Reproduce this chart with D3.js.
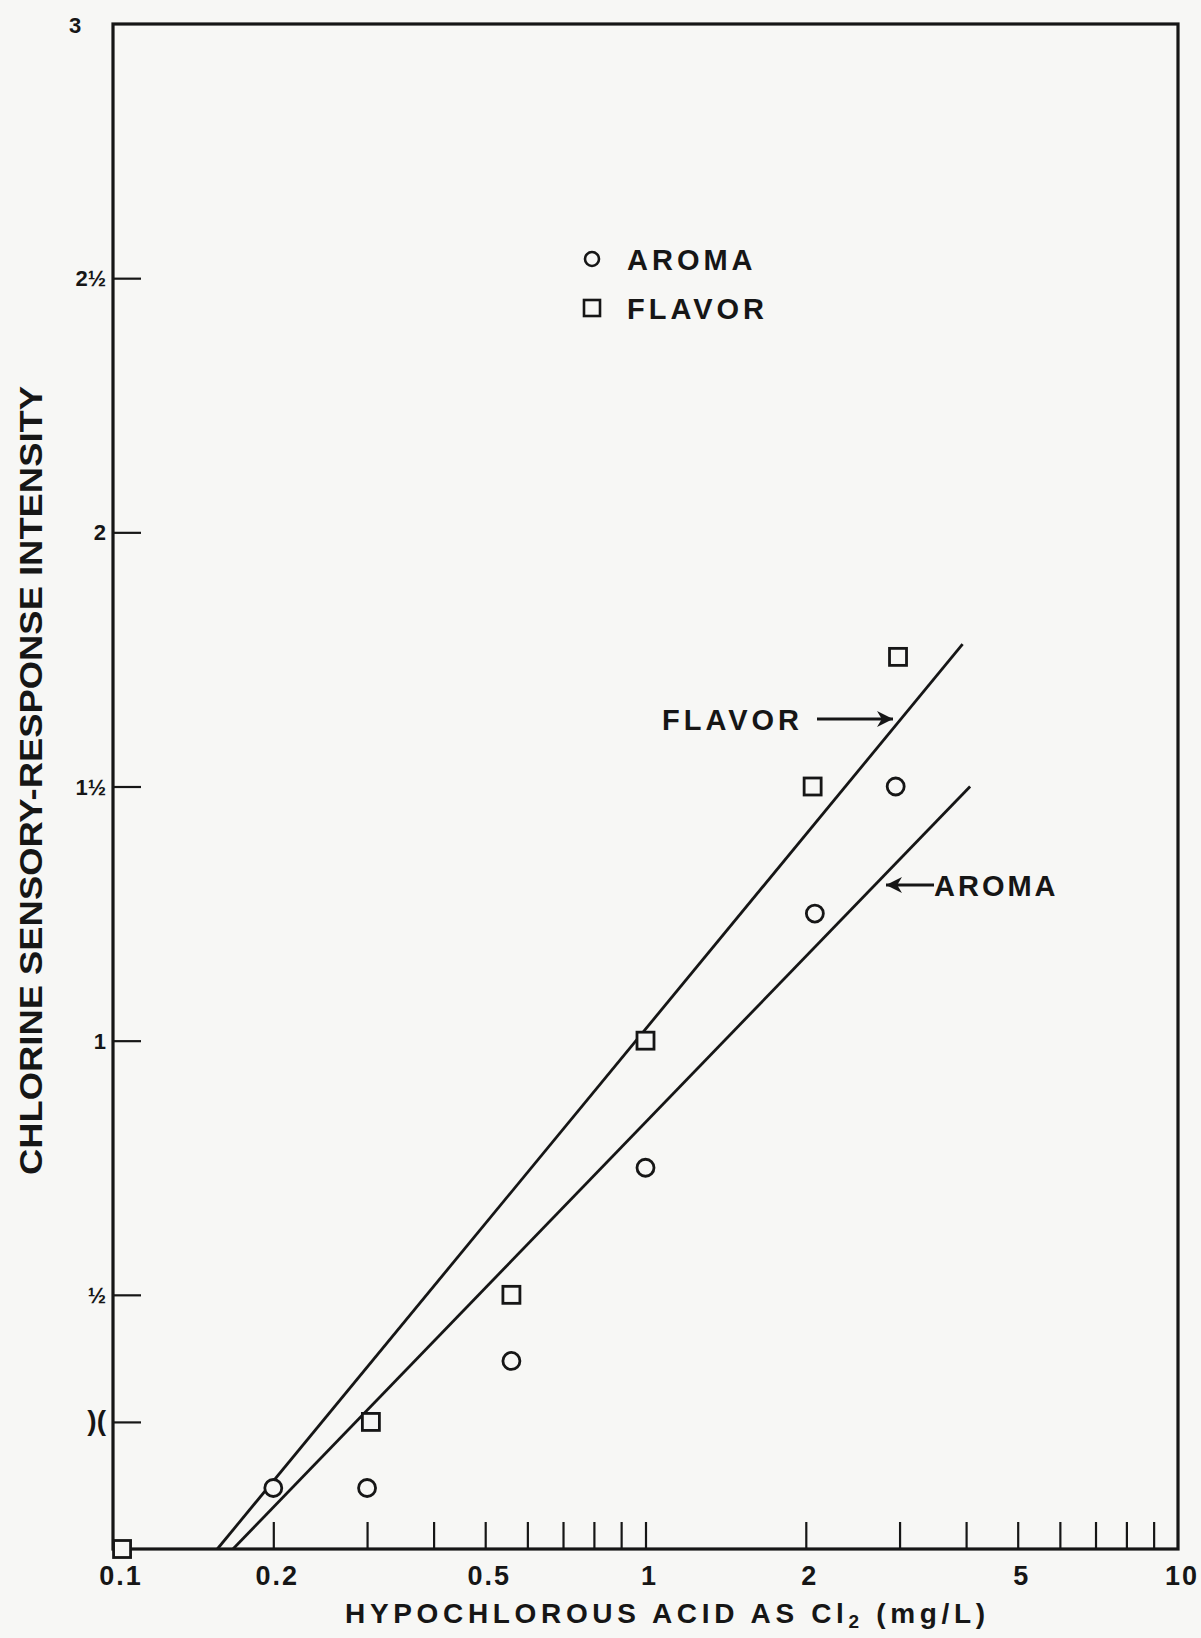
<!DOCTYPE html>
<html>
<head>
<meta charset="utf-8">
<script src="https://cdn.jsdelivr.net/npm/d3@7"></script>
<style>
  html, body { margin: 0; padding: 0; background: #f7f7f5; }
  svg { display: block; }
  text { font-family: "Liberation Sans", Arial, Helvetica, sans-serif; font-weight: bold; fill: #161616; }
</style>
</head>
<body>
<div id="chart"></div>
<script>
// data
const aromaX  = [0.2, 0.3, 0.56, 1.0, 2.08, 2.95];
const aromaY  = [0.12, 0.12, 0.37, 0.75, 1.25, 1.5];
const flavorX = [0.104, 0.305, 0.56, 1.0, 2.06, 2.98];
const flavorY = [0, 0.25, 0.5, 1.0, 1.5, 1.755];

// fitted lines (end points)
const flavorFitX = [0.157, 3.94];
const flavorFitY = [0, 1.78];
const aromaFitX  = [0.168, 4.07];
const aromaFitY  = [0, 1.5];

// ticks
const xMinorTicks = [0.2, 0.3, 0.4, 0.5, 0.6, 0.7, 0.8, 0.9, 1, 2, 3, 4, 5, 6, 7, 8, 9];
const xTickLabels = [0.1, 0.2, 0.5, 1, 2, 5, 10];
const yTickValues = [0.25, 0.5, 1, 1.5, 2, 2.5];
const yTickLabels = [")(", "½", "1", "1½", "2", "2½"];

const W = 1201, H = 1638;
const margin = { top: 24, right: 23, bottom: 89, left: 113 };
const width = W - margin.left - margin.right;
const height = H - margin.top - margin.bottom;

const svg = d3.select('#chart').append('svg')
  .attr('width', W)
  .attr('height', H);

const g = svg.append('g')
  .attr('transform', `translate(${margin.left},${margin.top})`);

const x = d3.scaleLog().domain([0.1, 10]).range([0, width]);
const y = d3.scaleLinear().domain([0, 3]).range([height, 0]);

const ink = '#161616';

// frame
g.append('rect')
  .attr('x', 0).attr('y', 0)
  .attr('width', width).attr('height', height)
  .attr('fill', 'none')
  .attr('stroke', ink)
  .attr('stroke-width', 3.2);

// x axis: ticks pointing up into the plot
const xAxis = g.append('g')
  .attr('transform', `translate(0,${height})`)
  .call(d3.axisTop(x).tickValues(xMinorTicks).tickSize(27).tickFormat(() => ''));
xAxis.select('.domain').remove();
xAxis.selectAll('line').attr('stroke', ink).attr('stroke-width', 2.2);

g.append('g')
  .selectAll('text')
  .data(xTickLabels)
  .join('text')
  .attr('x', d => x(d) + (d === 0.1 ? 8 : 4))
  .attr('y', height + 36)
  .attr('text-anchor', 'middle')
  .attr('font-size', 27)
  .attr('letter-spacing', 2)
  .text(d => String(d));

// y axis: ticks pointing right into the plot
const yAxis = g.append('g')
  .call(d3.axisRight(y).tickValues(yTickValues).tickSize(28).tickFormat(() => ''));
yAxis.select('.domain').remove();
yAxis.selectAll('line').attr('stroke', ink).attr('stroke-width', 2.2);

g.append('g')
  .selectAll('text')
  .data(yTickValues)
  .join('text')
  .attr('x', -7)
  .attr('y', d => y(d) + 8)
  .attr('text-anchor', 'end')
  .attr('font-size', d => d === 0.25 ? 28 : 22)
  .text((d, i) => yTickLabels[i]);

g.append('text')
  .attr('x', -44)
  .attr('y', y(3) + 9)
  .attr('font-size', 22)
  .text('3');

// fitted lines
const line = d3.line().x(d => x(d[0])).y(d => y(d[1]));
g.append('path')
  .datum(d3.zip(flavorFitX, flavorFitY))
  .attr('d', line)
  .attr('fill', 'none').attr('stroke', ink).attr('stroke-width', 2.8);
g.append('path')
  .datum(d3.zip(aromaFitX, aromaFitY))
  .attr('d', line)
  .attr('fill', 'none').attr('stroke', ink).attr('stroke-width', 2.8);

// markers
g.append('g')
  .selectAll('circle')
  .data(d3.zip(aromaX, aromaY))
  .join('circle')
  .attr('cx', d => x(d[0]))
  .attr('cy', d => y(d[1]))
  .attr('r', 8.5)
  .attr('fill', '#f7f7f5')
  .attr('stroke', ink)
  .attr('stroke-width', 2.8);

const sq = 17;
g.append('g')
  .selectAll('rect')
  .data(d3.zip(flavorX, flavorY))
  .join('rect')
  .attr('x', d => x(d[0]) - sq / 2)
  .attr('y', d => y(d[1]) - sq / 2)
  .attr('width', sq).attr('height', sq)
  .attr('fill', '#f7f7f5')
  .attr('stroke', ink)
  .attr('stroke-width', 2.8);

// legend
const legend = g.append('g').attr('transform', `translate(${479},${235})`);
legend.append('circle')
  .attr('cx', 0).attr('cy', 0).attr('r', 7)
  .attr('fill', 'none').attr('stroke', ink).attr('stroke-width', 2.6);
legend.append('text')
  .attr('x', 35).attr('y', 11)
  .attr('font-size', 29).attr('letter-spacing', 4)
  .text('AROMA');
legend.append('rect')
  .attr('x', -8).attr('y', 41).attr('width', 16).attr('height', 16)
  .attr('fill', 'none').attr('stroke', ink).attr('stroke-width', 2.6);
legend.append('text')
  .attr('x', 35).attr('y', 60)
  .attr('font-size', 29).attr('letter-spacing', 4)
  .text('FLAVOR');

// arrow head
const defs = svg.append('defs');
defs.append('marker')
  .attr('id', 'arrow')
  .attr('viewBox', '0 0 10 10')
  .attr('refX', 10).attr('refY', 5)
  .attr('markerWidth', 24).attr('markerHeight', 16)
  .attr('markerUnits', 'userSpaceOnUse')
  .attr('orient', 'auto')
  .append('path')
  .attr('d', 'M0,0 L10,5 L0,10 L3,5 Z')
  .attr('fill', ink);

// FLAVOR ->
const fy = 719 - margin.top;
g.append('text')
  .attr('x', 662 - margin.left).attr('y', fy + 11)
  .attr('font-size', 29).attr('letter-spacing', 4)
  .text('FLAVOR');
g.append('line')
  .attr('x1', 817 - margin.left).attr('y1', fy)
  .attr('x2', 893 - margin.left).attr('y2', fy)
  .attr('stroke', ink).attr('stroke-width', 2.8)
  .attr('marker-end', 'url(#arrow)');

// <- AROMA
const ay = 885 - margin.top;
g.append('line')
  .attr('x1', 934 - margin.left).attr('y1', ay)
  .attr('x2', 886 - margin.left).attr('y2', ay)
  .attr('stroke', ink).attr('stroke-width', 2.8)
  .attr('marker-end', 'url(#arrow)');
g.append('text')
  .attr('x', 934 - margin.left).attr('y', ay + 11)
  .attr('font-size', 29).attr('letter-spacing', 3)
  .text('AROMA');

// axis titles
const xt = svg.append('text')
  .attr('x', 345).attr('y', 1623)
  .attr('font-size', 28)
  .attr('textLength', 640)
  .attr('lengthAdjust', 'spacing');
xt.append('tspan').text('HYPOCHLOROUS ACID AS Cl');
xt.append('tspan').attr('font-size', 19).attr('dy', 5).text('2');
xt.append('tspan').attr('dy', -5).text(' (mg/L)');

svg.append('text')
  .attr('transform', `translate(42,${1175}) rotate(-90)`)
  .attr('font-family', '"Liberation Sans Narrow", "Liberation Sans", Arial, sans-serif')
  .attr('font-size', 31)
  .attr('textLength', 789)
  .attr('lengthAdjust', 'spacingAndGlyphs')
  .text('CHLORINE SENSORY-RESPONSE INTENSITY');
</script>
</body>
</html>
